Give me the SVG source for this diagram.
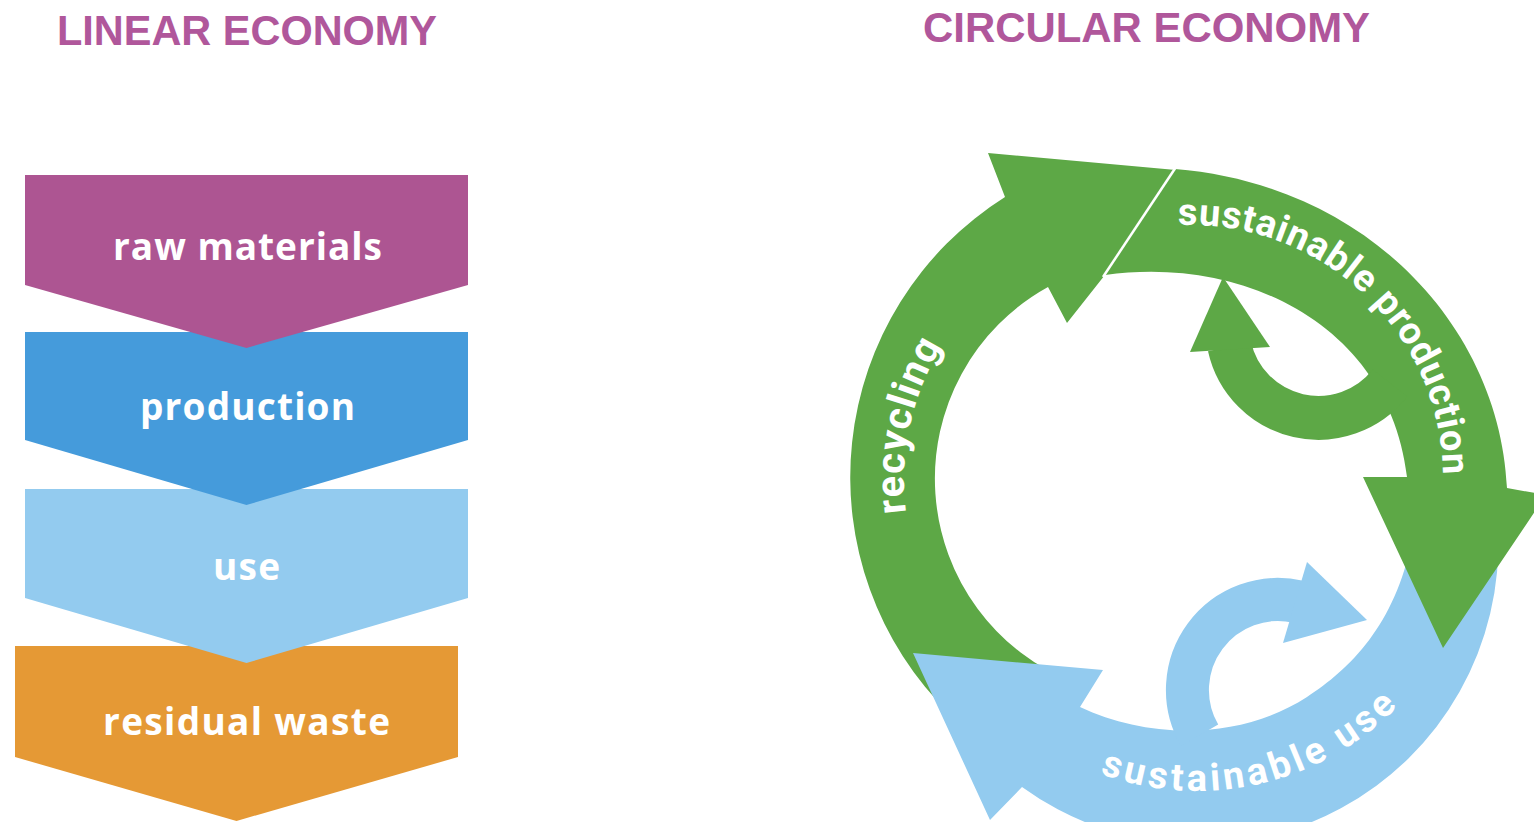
<svg xmlns="http://www.w3.org/2000/svg" width="1534" height="822" viewBox="0 0 1534 822">
<style>
.title{font-family:"Liberation Sans",Arial,sans-serif;font-weight:700;font-size:42px;fill:#b0579b}
.lbl{font-family:"Open Sans","Liberation Sans",sans-serif;font-weight:700;font-size:37px;fill:#ffffff}
.rlbl{font-family:Roboto,"Liberation Sans",sans-serif;font-weight:700;font-size:38px;fill:#ffffff}
.green{fill:#5da846}
.lblue{fill:#93cbef}
.loopG{fill:none;stroke:#5da846;stroke-width:44}
.loopB{fill:none;stroke:#93cbef;stroke-width:43}
</style>
<defs>
<path id="pRec" d="M906.1,512.7 A254,254 0 0 1 1031,260"/>
<path id="pProd" d="M1178.1,225.3 A253,253 0 0 1 1439.2,521.9"/>
<path id="pUse" d="M1099.9,773.6 A280,280 0 0 0 1417.6,683.4"/>
</defs>
<rect width="1534" height="822" fill="#ffffff"/>
<text class="title" x="57" y="45" textLength="380" lengthAdjust="spacingAndGlyphs">LINEAR ECONOMY</text>
<text class="title" x="923" y="42" textLength="447" lengthAdjust="spacingAndGlyphs">CIRCULAR ECONOMY</text>

<g id="linear">
<g id="residual-waste">
<path d="M15,646 H458 V757 L236.5,821 L15,757 Z" fill="#e59935"/>
<text class="lbl" x="103" y="735" textLength="287" lengthAdjust="spacing">residual waste</text>
</g>
<g id="use">
<path d="M25,489 H468 V598 L246.5,663 L25,598 Z" fill="#93cbef"/>
<text class="lbl" x="213" y="580" textLength="67" lengthAdjust="spacing">use</text>
</g>
<g id="production">
<path d="M25,332 H468 V440 L246.5,505 L25,440 Z" fill="#459bdb"/>
<text class="lbl" x="140" y="420" textLength="215" lengthAdjust="spacing">production</text>
</g>
<g id="raw-materials">
<path d="M25,175 H468 V285 L246.5,348 L25,285 Z" fill="#ad5592"/>
<text class="lbl" x="113" y="260" textLength="269" lengthAdjust="spacing">raw materials</text>
</g>
</g>

<g id="circular">
<g id="recycling">
<path class="green" d="M1005,197 L988,153 L1187,171 L1067,323 L1048,287 A219,219 0 0 0 1075,683 L950,714 A331,331 0 0 1 1005,197 Z"/>
</g>
<g id="sustainable-use">
<path class="lblue" d="M913,653 L1103,670 L1080,707 C1150,740 1240,740 1307,697 C1350,669 1395,625 1412,540 L1498,530 A300,300 0 0 1 1022,787 L990,820 Z"/>
<path class="loopB" d="M1199.6,735.3 A90.5,90.5 0 0 1 1298.4,601.8"/>
<polygon class="lblue" points="1307,562 1367,620 1283,643"/>
</g>
<g id="sustainable-production">
<path class="green" d="M1105,275 L1175,169 C1370,185 1500,330 1507,488 L1546,495 L1443,648 L1363,477 L1407,477 C1390,330 1250,255 1105,275 Z"/>
<path class="loopG" d="M1390,383 A91,91 0 0 1 1229.5,346.5"/>
<polygon class="green" points="1190,352 1223,277 1270,347"/>
</g>
<g id="connectors">
<line x1="1176" y1="167" x2="1103" y2="277" stroke="#ffffff" stroke-width="2.5"/>
</g>
<text class="rlbl" style="font-size:40px" letter-spacing="1.2"><textPath href="#pRec">recycling</textPath></text>
<text class="rlbl" letter-spacing="0.7"><textPath href="#pProd">sustainable production</textPath></text>
<text class="rlbl" letter-spacing="3.9"><textPath href="#pUse">sustainable use</textPath></text>
</g>
</svg>
